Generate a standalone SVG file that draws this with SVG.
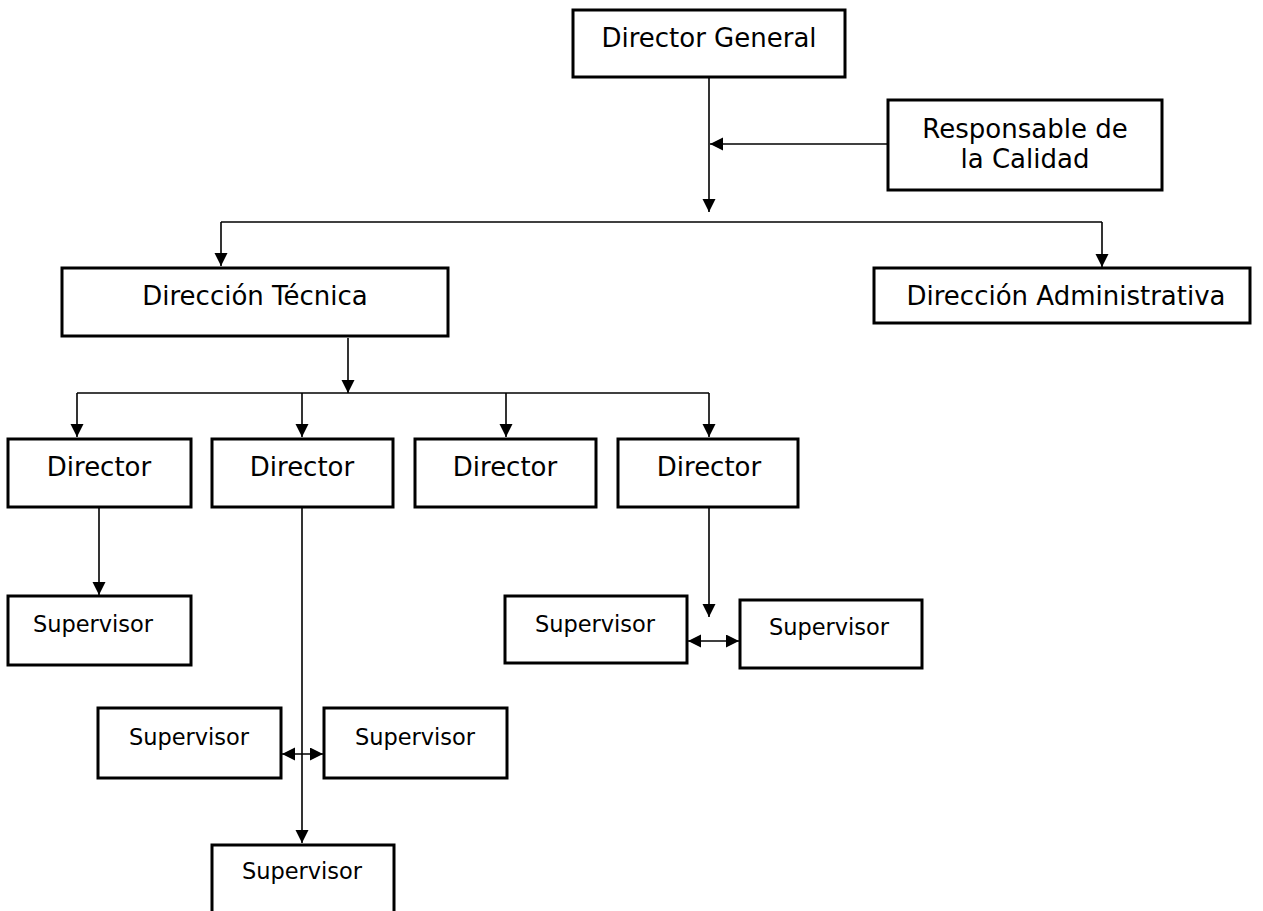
<svg xmlns="http://www.w3.org/2000/svg" width="1263" height="911" viewBox="0 0 1263 911">
<style>
.box{fill:#fff;stroke:#000;stroke-width:3}
.t{font-family:"DejaVu Sans",Verdana,sans-serif;font-size:26px;fill:#000;text-anchor:middle}
.s{font-family:"DejaVu Sans",Verdana,sans-serif;font-size:22.5px;fill:#000;text-anchor:middle}
.ln{fill:none;stroke:#000;stroke-width:1.6}
.ar{marker-end:url(#ah)}
.dbl{marker-end:url(#ah);marker-start:url(#ah)}
</style>
<defs>
<marker id="ah" markerUnits="userSpaceOnUse" markerWidth="14" markerHeight="14" refX="13" refY="6.5" orient="auto-start-reverse">
<path d="M0,0 L13,6.5 L0,13 Z" fill="#000"/>
</marker>
</defs>
<rect width="1263" height="911" fill="#fff"/>
<g id="connectors">
<path class="ln ar" d="M709,78 V212"/>
<path class="ln ar" d="M888,144 H710"/>
<path class="ln" d="M221,222 H1102"/>
<path class="ln ar" d="M221,222 V266"/>
<path class="ln ar" d="M1102,222 V267"/>
<path class="ln ar" d="M348,338 V393"/>
<path class="ln" d="M77,393 H709"/>
<path class="ln ar" d="M77,393 V437"/>
<path class="ln ar" d="M302,393 V437"/>
<path class="ln ar" d="M506,393 V437"/>
<path class="ln ar" d="M709,393 V437"/>
<path class="ln ar" d="M99,507 V595"/>
<path class="ln ar" d="M302,507 V843"/>
<path class="ln dbl" d="M282,754 H323"/>
<path class="ln ar" d="M709,507 V617"/>
<path class="ln dbl" d="M688,641 H739"/>
</g>
<g id="director-general"><rect class="box" x="573" y="10" width="272" height="67"/><text class="t" x="709" y="47">Director General</text></g>
<g id="responsable-calidad"><rect class="box" x="888" y="100" width="274" height="90"/><text class="t" x="1025" y="138">Responsable de</text><text class="t" x="1025" y="168">la Calidad</text></g>
<g id="direccion-tecnica"><rect class="box" x="62" y="268" width="386" height="68"/><text class="t" x="255" y="305">Dirección Técnica</text></g>
<g id="direccion-administrativa"><rect class="box" x="874" y="268" width="376" height="55"/><text class="t" x="1066" y="305">Dirección Administrativa</text></g>
<g id="director-1"><rect class="box" x="8" y="439" width="183" height="68"/><text class="t" x="99" y="476">Director</text></g>
<g id="director-2"><rect class="box" x="212" y="439" width="181" height="68"/><text class="t" x="302" y="476">Director</text></g>
<g id="director-3"><rect class="box" x="415" y="439" width="181" height="68"/><text class="t" x="505" y="476">Director</text></g>
<g id="director-4"><rect class="box" x="618" y="439" width="180" height="68"/><text class="t" x="709" y="476">Director</text></g>
<g id="supervisor-1"><rect class="box" x="8" y="596" width="183" height="69"/><text class="s" x="93" y="632">Supervisor</text></g>
<g id="supervisor-2a"><rect class="box" x="98" y="708" width="183" height="70"/><text class="s" x="189" y="745">Supervisor</text></g>
<g id="supervisor-2b"><rect class="box" x="324" y="708" width="183" height="70"/><text class="s" x="415" y="745">Supervisor</text></g>
<g id="supervisor-2c"><rect class="box" x="212" y="845" width="182" height="75"/><text class="s" x="302" y="879">Supervisor</text></g>
<g id="supervisor-4a"><rect class="box" x="505" y="596" width="182" height="67"/><text class="s" x="595" y="632">Supervisor</text></g>
<g id="supervisor-4b"><rect class="box" x="740" y="600" width="182" height="68"/><text class="s" x="829" y="635">Supervisor</text></g>
</svg>
